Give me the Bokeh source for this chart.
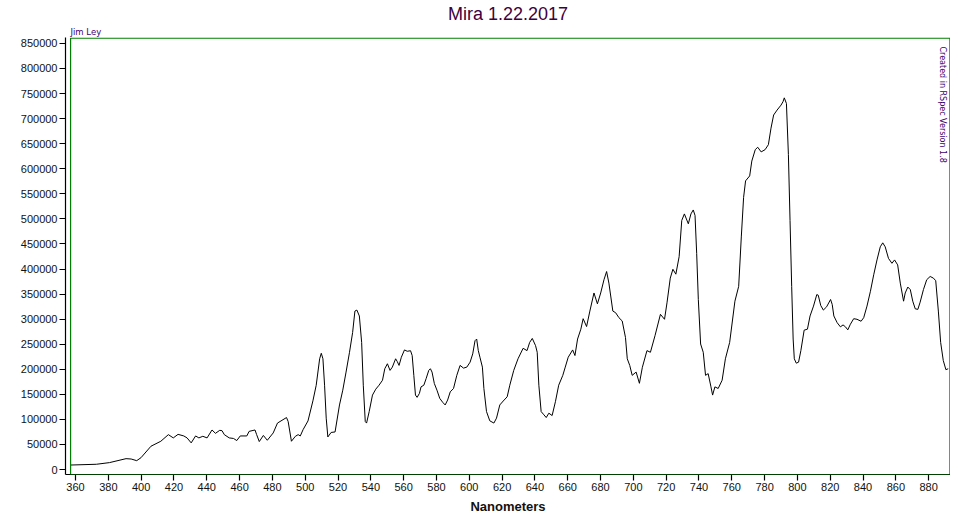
from bokeh.plotting import figure
from bokeh.models import BoxAnnotation, Label, FixedTicker, BasicTickFormatter, Range1d, Title
from bokeh.embed import file_html
from bokeh.resources import INLINE

# Spectrum (nm, intensity)
wavelength_nm = [
    357.2, 372.7, 380.7, 390.8, 393.9, 397.3, 399.9, 406.0, 412.0, 416.6,
    419.6, 422.5, 426.0, 428.0, 430.5, 433.2, 435.2, 437.6, 440.2, 443.2,
    445.3, 447.9, 449.3, 450.7, 453.7, 456.3, 458.3, 460.4, 464.4, 465.8,
    469.4, 470.4, 472.0, 474.5, 476.9, 480.5, 483.1, 488.6, 489.6, 491.6,
    494.0, 495.7, 497.0, 498.7, 501.7, 504.7, 506.7, 508.8, 509.8, 510.8,
    511.8, 512.8, 513.8, 515.8, 518.2, 520.9, 522.9, 524.9, 527.0, 528.9,
    530.3, 531.5, 533.0, 534.4, 535.4, 536.6, 537.4, 539.0, 541.0, 543.0,
    545.0, 547.1, 548.5, 550.1, 551.7, 553.1, 555.1, 556.1, 557.2, 558.6,
    560.5, 562.2, 564.2, 565.2, 566.2, 567.2, 568.2, 569.6, 570.6, 572.3,
    573.7, 575.3, 576.3, 577.3, 578.7, 580.3, 582.0, 583.8, 585.3, 586.8,
    588.4, 590.4, 592.4, 594.4, 596.5, 598.5, 600.5, 602.1, 603.5, 604.5,
    605.5, 606.5, 608.0, 608.9, 610.5, 612.5, 615.0, 616.6, 618.6, 620.7,
    623.1, 624.7, 627.1, 629.7, 632.8, 635.2, 636.8, 638.4, 640.4, 641.4,
    642.4, 643.8, 645.5, 646.9, 648.5, 650.5, 652.5, 654.5, 657.0, 658.5,
    660.3, 663.0, 664.4, 666.0, 668.0, 669.4, 671.5, 673.5, 676.0, 678.1,
    680.1, 682.1, 683.7, 685.1, 687.5, 689.2, 691.2, 693.2, 695.2, 696.3,
    697.8, 699.3, 701.7, 703.7, 705.5, 708.3, 710.4, 713.2, 716.5, 719.0,
    720.5, 722.5, 724.1, 725.9, 727.9, 729.5, 731.1, 733.5, 735.1, 736.5,
    737.6, 738.6, 739.6, 741.0, 742.6, 744.0, 745.6, 747.3, 748.3, 749.7,
    751.7, 754.1, 756.1, 758.7, 761.9, 764.2, 765.8, 767.2, 768.4, 770.9,
    772.2, 774.3, 775.8, 777.9, 780.3, 782.3, 783.9, 785.5, 787.6, 790.0,
    791.2, 792.0, 793.3, 794.5, 795.5, 796.5, 797.4, 798.1, 799.3, 800.7,
    802.1, 804.1, 806.1, 807.7, 809.8, 811.8, 812.7, 814.2, 815.8, 817.8,
    820.2, 821.2, 822.2, 824.2, 826.2, 827.8, 829.3, 830.7, 832.3, 834.3,
    836.3, 838.8, 840.4, 842.4, 844.5, 846.5, 848.5, 850.5, 852.0, 853.5,
    855.5, 857.6, 859.2, 861.1, 862.7, 864.7, 865.7, 867.3, 868.8, 870.3,
    871.8, 873.4, 874.8, 876.8, 878.8, 880.9, 882.9, 884.3, 885.9, 887.3,
    888.9, 890.5, 891.9,
]
intensity = [
    9000, 10500, 13800, 21700, 21000, 17700, 23600, 46500, 56400, 69600,
    63100, 70200, 67000, 63100, 53200, 67000, 63100, 66300, 63100, 78900,
    72200, 78200, 77500, 69600, 63100, 62000, 57800, 67000, 67000, 76100,
    78900, 69600, 55800, 68000, 58400, 73000, 92700, 103700, 95800, 56400,
    66300, 69600, 67000, 79500, 97000, 137000, 168000, 220900, 231900, 220900,
    168200, 102500, 65000, 74000, 75000, 128800, 158300, 194400, 233900, 273300,
    316100, 318100, 306300, 253600, 168200, 95800, 92700, 115600, 148500, 160300,
    168200, 178100, 201100, 211000, 197800, 204300, 220900, 215500, 207700, 224000,
    238600, 235900, 237000, 227400, 187900, 148500, 144000, 151800, 164900, 168200,
    181400, 197800, 201100, 194400, 171600, 158300, 142000, 134100, 128800, 138600,
    155000, 161700, 187900, 207700, 202300, 204300, 214200, 230700, 257000, 260300,
    237200, 224000, 204300, 161700, 115600, 97200, 92700, 102500, 128800, 136700,
    145100, 168200, 197800, 220900, 241800, 237200, 253600, 261500, 247100, 233900,
    168200, 115600, 109100, 103700, 112400, 107700, 135300, 168200, 187900, 204300,
    224000, 238600, 227400, 260300, 280000, 300900, 285200, 316100, 352200, 330500,
    352200, 378600, 395000, 371900, 316100, 312800, 302900, 296400, 263500, 220900,
    207700, 187900, 194400, 172000, 204000, 237200, 233900, 267000, 309600, 299700,
    332500, 381800, 399500, 389700, 424600, 496900, 509900, 490200, 509900, 517800,
    506800, 431100, 339200, 250400, 233900, 187900, 191300, 164900, 148500, 164900,
    161700, 178100, 220900, 253600, 335800, 365400, 464000, 542900, 575800, 585700,
    615300, 638100, 642900, 633600, 638100, 648000, 681000, 707200, 717000, 726900,
    733600, 741400, 730200, 628300, 496900, 365400, 260300, 220900, 212200, 214200,
    237200, 278000, 280000, 306300, 326000, 349000, 347700, 327300, 318100, 324600,
    339200, 329300, 306300, 293000, 284600, 288500, 284600, 278600, 289900, 300900,
    299700, 295800, 302900, 326000, 355600, 388500, 418100, 444300, 452200, 444300,
    421200, 411400, 418100, 408200, 371900, 335800, 352200, 364000, 358900, 335800,
    320600, 319500, 333900, 358900, 378600, 385100, 381800, 376700, 316100, 253600,
    217500, 199200, 201100,
]

x_ticks = list(range(360, 881, 20))
y_ticks = list(range(0, 850001, 50000))

title_text = "Mira 1.22.2017"
author_text = "Jim Ley"
credit_text = "Created in RSpec Version 1.8"
x_label = "Nanometers"

X_START, X_END = 353.9, 893.3
Y_START, Y_END = -9900, 861800
BOX_LEFT = 357.0

p = figure(width=950, height=516, output_backend="svg", toolbar_location=None,
           x_range=Range1d(X_START, X_END), y_range=Range1d(Y_START, Y_END),
           min_border_left=65, min_border_right=0, min_border_bottom=38, min_border_top=0)

# small author line directly above the frame
p.add_layout(Title(text=author_text, align="left", offset=5, standoff=1,
                   text_font="DejaVu Sans", text_font_size="8.5px",
                   text_font_style="normal", text_color="#400070"), "above")

p.title.text = title_text
p.title.align = "center"
p.title.text_font = "Liberation Sans"
p.title.text_font_size = "18px"
p.title.text_font_style = "normal"
p.title.text_color = "#400040"
p.title.standoff = 2
p.title.offset = -4

p.outline_line_color = None
p.background_fill_color = "white"
p.border_fill_color = "white"
p.xgrid.visible = False
p.ygrid.visible = False

p.line(wavelength_nm, intensity, line_color="black", line_width=1)

# green frame: left, top and right sides only (bottom is left open below the range)
frame_box = BoxAnnotation(left=BOX_LEFT, right=X_END - 0.35, top=Y_END - 1200,
                          fill_alpha=0, fill_color=None,
                          line_color="#008000", line_alpha=1.0, line_width=1.2)
p.add_layout(frame_box)

for ax in (p.xaxis[0], p.yaxis[0]):
    ax.axis_line_color = "black"
    ax.axis_line_width = 1.2
    ax.major_tick_line_color = "black"
    ax.major_tick_line_width = 1.2
    ax.major_tick_in = 0
    ax.major_tick_out = 6
    ax.minor_tick_line_color = None
    ax.major_label_text_font = "Liberation Sans"
    ax.major_label_text_font_size = "11px"
    ax.major_label_text_color = "#111111"
    ax.major_label_standoff = 2

p.xaxis.ticker = FixedTicker(ticks=x_ticks)
p.yaxis.ticker = FixedTicker(ticks=y_ticks)
p.yaxis.formatter = BasicTickFormatter(use_scientific=False)
p.xaxis.axis_label = x_label
p.xaxis.axis_label_text_font = "Liberation Sans"
p.xaxis.axis_label_text_font_size = "13px"
p.xaxis.axis_label_text_font_style = "bold"
p.xaxis.axis_label_text_color = "#111111"
p.xaxis.axis_label_standoff = 5

p.add_layout(Label(x=X_END, y=Y_END, text=credit_text, x_offset=-13, y_offset=-9,
                   angle=-1.5707963, text_font="DejaVu Sans", text_font_size="8px",
                   text_color="#400070", text_baseline="bottom", text_align="left"))

open("out.html", "w").write(file_html(p, INLINE))
